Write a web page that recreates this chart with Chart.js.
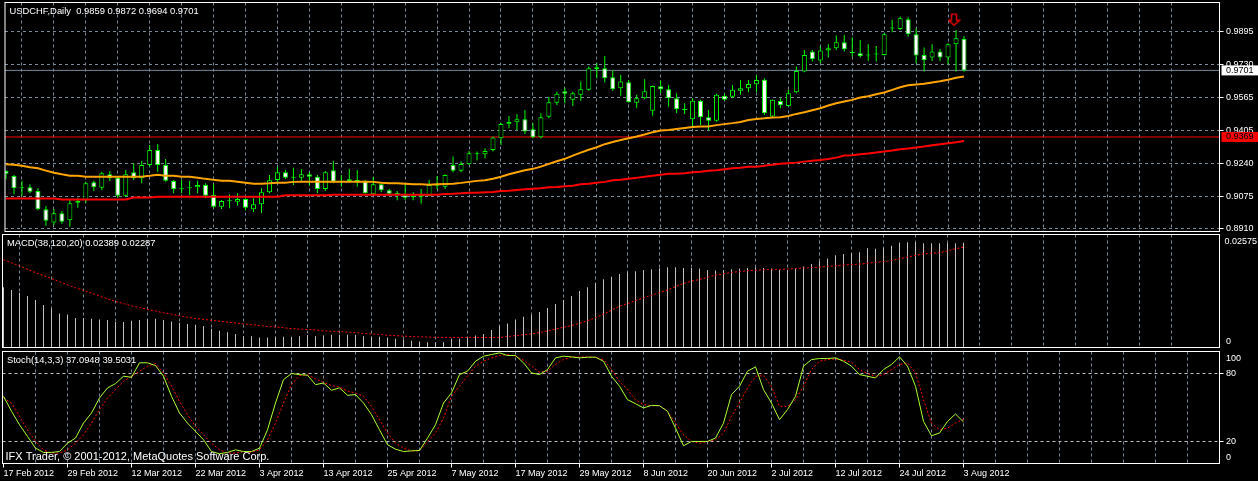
<!DOCTYPE html>
<html>
<head>
<meta charset="utf-8">
<title>USDCHF,Daily</title>
<script src="https://cdn.jsdelivr.net/npm/chart.js@4.4.1/dist/chart.umd.min.js"></script>
<style>
  html, body { margin: 0; padding: 0; background: #000; overflow: hidden; }
  #wrap { position: relative; width: 1258px; height: 481px; }
  #wrap canvas { position: absolute; left: 0; }
</style>
</head>
<body>
<div id="wrap">
  <canvas id="priceChart" width="1258" height="255" style="top:-10px"></canvas>
  <canvas id="macdChart" width="1258" height="118" style="top:232px"></canvas>
  <canvas id="stochChart" width="1258" height="132" style="top:349px"></canvas>
</div>
<script>
// one bar per trading day, bar 0 = 17 Feb 2012, bar 120 = 3 Aug 2012
const dateLabels = ['17 Feb 2012', '29 Feb 2012', '12 Mar 2012', '22 Mar 2012', '3 Apr 2012', '13 Apr 2012',
  '25 Apr 2012', '7 May 2012', '17 May 2012', '29 May 2012', '8 Jun 2012', '20 Jun 2012', '2 Jul 2012',
  '12 Jul 2012', '24 Jul 2012', '3 Aug 2012'];

const open = [
  0.9199, 0.9174, 0.9113, 0.9118, 0.9099, 0.9008, 0.8943, 0.8988, 0.8953, 0.9041,
  0.9055, 0.9143, 0.9116, 0.9183, 0.9166, 0.9076, 0.9193, 0.9163, 0.9229, 0.9304,
  0.9229, 0.9149, 0.9108, 0.9113, 0.9118, 0.9129, 0.9079, 0.9021, 0.9048, 0.9046,
  0.9059, 0.9008, 0.9033, 0.9093, 0.9154, 0.9193, 0.9166, 0.9166, 0.9183, 0.9171,
  0.9109, 0.9203, 0.9148, 0.9149, 0.9151, 0.9151, 0.9083, 0.9133, 0.9103, 0.9086,
  0.9080, 0.9075, 0.9071, 0.9075, 0.9126, 0.9121, 0.9229, 0.9201, 0.9233, 0.9283,
  0.9283, 0.9304, 0.9362, 0.9432, 0.9442, 0.9457, 0.9407, 0.9367, 0.9470, 0.9540,
  0.9597, 0.9554, 0.9579, 0.9604, 0.9708, 0.9712, 0.9667, 0.9612, 0.9642, 0.9540,
  0.9562, 0.9500, 0.9622, 0.9607, 0.9562, 0.9505, 0.9457, 0.9549, 0.9467, 0.9450,
  0.9575, 0.9570, 0.9600, 0.9612, 0.9632, 0.9654, 0.9471, 0.9548, 0.9524, 0.9592,
  0.9695, 0.9795, 0.9750, 0.9800, 0.9811, 0.9841, 0.9792, 0.9787, 0.9777, 0.9780,
  0.9778, 0.9910, 0.9908, 0.9956, 0.9881, 0.9778, 0.9765, 0.9795, 0.9765, 0.9831,
  0.9859];
const high = [
  0.9204, 0.9179, 0.9149, 0.9133, 0.9113, 0.9025, 0.9010, 0.9000, 0.9055, 0.9066,
  0.9146, 0.9151, 0.9196, 0.9199, 0.9171, 0.9204, 0.9238, 0.9249, 0.9329, 0.9334,
  0.9259, 0.9154, 0.9154, 0.9149, 0.9151, 0.9138, 0.9133, 0.9055, 0.9083, 0.9088,
  0.9063, 0.9063, 0.9113, 0.9179, 0.9221, 0.9204, 0.9216, 0.9208, 0.9193, 0.9179,
  0.9199, 0.9249, 0.9179, 0.9209, 0.9204, 0.9154, 0.9169, 0.9138, 0.9109, 0.9099,
  0.9133, 0.9093, 0.9109, 0.9154, 0.9174, 0.9183, 0.9271, 0.9246, 0.9299, 0.9296,
  0.9313, 0.9371, 0.9440, 0.9474, 0.9482, 0.9504, 0.9437, 0.9487, 0.9570, 0.9595,
  0.9615, 0.9595, 0.9645, 0.9720, 0.9737, 0.9773, 0.9700, 0.9678, 0.9653, 0.9579,
  0.9657, 0.9626, 0.9650, 0.9628, 0.9587, 0.9537, 0.9562, 0.9554, 0.9504, 0.9584,
  0.9584, 0.9628, 0.9653, 0.9653, 0.9678, 0.9662, 0.9556, 0.9562, 0.9604, 0.9720,
  0.9803, 0.9803, 0.9820, 0.9831, 0.9875, 0.9878, 0.9866, 0.9853, 0.9831, 0.9823,
  0.9886, 0.9953, 0.9970, 0.9966, 0.9911, 0.9815, 0.9831, 0.9808, 0.9836, 0.9903,
  0.9872];
const low = [
  0.9158, 0.9083, 0.9076, 0.9088, 0.9003, 0.8926, 0.8930, 0.8936, 0.8921, 0.9016,
  0.9041, 0.9099, 0.9104, 0.9149, 0.9066, 0.9071, 0.9154, 0.9138, 0.9221, 0.9196,
  0.9146, 0.9088, 0.9088, 0.9079, 0.9088, 0.9063, 0.9016, 0.9010, 0.9013, 0.9026,
  0.9003, 0.8995, 0.8990, 0.9088, 0.9146, 0.9159, 0.9129, 0.9151, 0.9126, 0.9088,
  0.9099, 0.9138, 0.9121, 0.9146, 0.9121, 0.9086, 0.9080, 0.9093, 0.9083, 0.9053,
  0.9056, 0.9053, 0.9036, 0.9073, 0.9109, 0.9109, 0.9193, 0.9193, 0.9229, 0.9251,
  0.9263, 0.9296, 0.9329, 0.9412, 0.9404, 0.9384, 0.9362, 0.9362, 0.9462, 0.9529,
  0.9537, 0.9524, 0.9550, 0.9600, 0.9662, 0.9640, 0.9600, 0.9574, 0.9540, 0.9512,
  0.9557, 0.9475, 0.9587, 0.9520, 0.9487, 0.9484, 0.9421, 0.9429, 0.9404, 0.9445,
  0.9550, 0.9562, 0.9579, 0.9592, 0.9592, 0.9479, 0.9468, 0.9512, 0.9521, 0.9587,
  0.9692, 0.9745, 0.9737, 0.9765, 0.9803, 0.9795, 0.9770, 0.9765, 0.9748, 0.9745,
  0.9775, 0.9891, 0.9903, 0.9870, 0.9737, 0.9695, 0.9748, 0.9748, 0.9732, 0.9695,
  0.9694];
const close = [
  0.9186, 0.9113, 0.9118, 0.9096, 0.9008, 0.8951, 0.8988, 0.8946, 0.9038, 0.9051,
  0.9138, 0.9118, 0.9188, 0.9163, 0.9076, 0.9183, 0.9163, 0.9229, 0.9304, 0.9229,
  0.9151, 0.9108, 0.9113, 0.9118, 0.9129, 0.9076, 0.9021, 0.9050, 0.9050, 0.9059,
  0.9016, 0.9033, 0.9093, 0.9153, 0.9193, 0.9166, 0.9168, 0.9183, 0.9171, 0.9109,
  0.9193, 0.9146, 0.9146, 0.9158, 0.9149, 0.9088, 0.9133, 0.9103, 0.9086, 0.9085,
  0.9066, 0.9070, 0.9080, 0.9129, 0.9129, 0.9179, 0.9201, 0.9234, 0.9288, 0.9288,
  0.9299, 0.9366, 0.9434, 0.9444, 0.9457, 0.9396, 0.9367, 0.9467, 0.9542, 0.9584,
  0.9585, 0.9587, 0.9607, 0.9712, 0.9717, 0.9662, 0.9607, 0.9645, 0.9542, 0.9562,
  0.9597, 0.9623, 0.9607, 0.9562, 0.9507, 0.9504, 0.9549, 0.9467, 0.9450, 0.9579,
  0.9554, 0.9604, 0.9612, 0.9633, 0.9653, 0.9487, 0.9554, 0.9527, 0.9587, 0.9698,
  0.9778, 0.9757, 0.9800, 0.9811, 0.9841, 0.9807, 0.9788, 0.9773, 0.9775, 0.9782,
  0.9881, 0.9911, 0.9961, 0.9881, 0.9775, 0.9752, 0.9795, 0.9765, 0.9831, 0.9861,
  0.9701];

// moving averages on the price window (orange and red)
const maFast = [
  0.9233, 0.9230, 0.9225, 0.9218, 0.9213, 0.9201, 0.9191, 0.9183, 0.9176, 0.9175,
  0.9171, 0.9171, 0.9171, 0.9171, 0.9171, 0.9171, 0.9171, 0.9171, 0.9175, 0.9180,
  0.9176, 0.9175, 0.9171, 0.9171, 0.9166, 0.9160, 0.9155, 0.9151, 0.9150, 0.9146,
  0.9141, 0.9136, 0.9136, 0.9138, 0.9141, 0.9141, 0.9145, 0.9146, 0.9146, 0.9146,
  0.9146, 0.9146, 0.9146, 0.9146, 0.9146, 0.9146, 0.9145, 0.9141, 0.9138, 0.9138,
  0.9136, 0.9133, 0.9133, 0.9131, 0.9133, 0.9135, 0.9136, 0.9140, 0.9145, 0.9150,
  0.9153, 0.9161, 0.9171, 0.9183, 0.9193, 0.9203, 0.9210, 0.9221, 0.9235, 0.9248,
  0.9260, 0.9276, 0.9291, 0.9305, 0.9318, 0.9333, 0.9344, 0.9354, 0.9363, 0.9371,
  0.9381, 0.9393, 0.9401, 0.9404, 0.9409, 0.9414, 0.9419, 0.9421, 0.9421, 0.9428,
  0.9433, 0.9438, 0.9444, 0.9454, 0.9459, 0.9462, 0.9466, 0.9467, 0.9474, 0.9484,
  0.9492, 0.9502, 0.9512, 0.9526, 0.9537, 0.9546, 0.9554, 0.9566, 0.9572, 0.9582,
  0.9591, 0.9604, 0.9617, 0.9627, 0.9631, 0.9634, 0.9641, 0.9647, 0.9654, 0.9664,
  0.9670];
const maSlow = [
  0.9062, 0.9062, 0.9062, 0.9062, 0.9062, 0.9062, 0.9062, 0.9057, 0.9057, 0.9057,
  0.9057, 0.9057, 0.9057, 0.9057, 0.9057, 0.9057, 0.9067, 0.9067, 0.9067, 0.9071,
  0.9071, 0.9071, 0.9071, 0.9071, 0.9071, 0.9071, 0.9071, 0.9071, 0.9071, 0.9071,
  0.9071, 0.9071, 0.9071, 0.9071, 0.9071, 0.9078, 0.9078, 0.9078, 0.9078, 0.9078,
  0.9078, 0.9081, 0.9081, 0.9081, 0.9081, 0.9081, 0.9081, 0.9081, 0.9081, 0.9081,
  0.9081, 0.9081, 0.9081, 0.9081, 0.9081, 0.9085, 0.9086, 0.9088, 0.9091, 0.9091,
  0.9093, 0.9095, 0.9100, 0.9101, 0.9105, 0.9108, 0.9111, 0.9113, 0.9118, 0.9120,
  0.9123, 0.9126, 0.9133, 0.9136, 0.9141, 0.9145, 0.9153, 0.9156, 0.9161, 0.9165,
  0.9171, 0.9176, 0.9181, 0.9185, 0.9186, 0.9188, 0.9193, 0.9196, 0.9201, 0.9203,
  0.9208, 0.9213, 0.9216, 0.9221, 0.9221, 0.9226, 0.9231, 0.9235, 0.9238, 0.9241,
  0.9246, 0.9250, 0.9254, 0.9259, 0.9266, 0.9276, 0.9278, 0.9283, 0.9286, 0.9291,
  0.9296, 0.9301, 0.9308, 0.9311, 0.9316, 0.9321, 0.9328, 0.9333, 0.9338, 0.9343,
  0.9349];

// MACD(38,120,20)
const macdMain = [
  0.01371, 0.01310, 0.01250, 0.01173, 0.01082, 0.00968, 0.00891, 0.00777, 0.00754, 0.00670,
  0.00670, 0.00655, 0.00640, 0.00625, 0.00579, 0.00579, 0.00609, 0.00625, 0.00640, 0.00655,
  0.00625, 0.00594, 0.00564, 0.00533, 0.00518, 0.00488, 0.00427, 0.00381, 0.00350, 0.00305,
  0.00259, 0.00259, 0.00229, 0.00229, 0.00244, 0.00244, 0.00244, 0.00259, 0.00282, 0.00259,
  0.00274, 0.00290, 0.00290, 0.00290, 0.00290, 0.00259, 0.00244, 0.00244, 0.00229, 0.00198,
  0.00183, 0.00152, 0.00137, 0.00122, 0.00122, 0.00122, 0.00198, 0.00198, 0.00229, 0.00274,
  0.00305, 0.00396, 0.00488, 0.00549, 0.00640, 0.00701, 0.00739, 0.00808, 0.00899, 0.00990,
  0.01082, 0.01173, 0.01288, 0.01371, 0.01463, 0.01554, 0.01615, 0.01676, 0.01707, 0.01737,
  0.01767, 0.01783, 0.01806, 0.01828, 0.01828, 0.01813, 0.01813, 0.01798, 0.01767, 0.01752,
  0.01767, 0.01783, 0.01798, 0.01813, 0.01828, 0.01813, 0.01798, 0.01767, 0.01767, 0.01798,
  0.01844, 0.01905, 0.01965, 0.02030, 0.02100, 0.02133, 0.02148, 0.02171, 0.02263, 0.02248,
  0.02263, 0.02316, 0.02392, 0.02400, 0.02400, 0.02377, 0.02377, 0.02377, 0.02377, 0.02377,
  0.02389];
const macdSignal = [
  0.0200, 0.0193, 0.0186, 0.0178, 0.0171, 0.0164, 0.0157, 0.0150, 0.0143, 0.0136,
  0.0130, 0.0124, 0.0117, 0.0111, 0.0105, 0.0100, 0.0095, 0.0091, 0.0087, 0.0083,
  0.0079, 0.0076, 0.0072, 0.0069, 0.0066, 0.0064, 0.0062, 0.0060, 0.0058, 0.0056,
  0.0054, 0.0052, 0.0050, 0.0048, 0.0047, 0.0045, 0.0043, 0.0042, 0.0041, 0.0040,
  0.0038, 0.0037, 0.0036, 0.0035, 0.0034, 0.0032, 0.0031, 0.0030, 0.0028, 0.0027,
  0.0026, 0.0025, 0.0024, 0.0024, 0.0023, 0.0023, 0.0023, 0.0023, 0.0023, 0.0023,
  0.0023, 0.0023, 0.0023, 0.0025, 0.0027, 0.0029, 0.0031, 0.0034, 0.0038, 0.0042,
  0.0046, 0.0050, 0.0055, 0.0061, 0.0068, 0.0076, 0.0085, 0.0094, 0.0100, 0.0107,
  0.0113, 0.0119, 0.0125, 0.0131, 0.0139, 0.0146, 0.0151, 0.0155, 0.0160, 0.0165,
  0.0168, 0.0171, 0.0173, 0.0175, 0.0176, 0.0177, 0.0178, 0.0178, 0.0179, 0.0180,
  0.0181, 0.0182, 0.0183, 0.0185, 0.0186, 0.0188, 0.0189, 0.0190, 0.0192, 0.0194,
  0.0196, 0.0198, 0.0202, 0.0206, 0.0210, 0.0213, 0.0215, 0.0216, 0.0220, 0.0225,
  0.02287];

// Stoch(14,3,3)
const stochK = [
  60, 46.6, 34.6, 24.2, 13.7, 9.9, 9.9, 10.7, 18.2, 22.7,
  36.1, 45.1, 58.5, 67.5, 71.3, 77.9, 77, 89.9, 89.9, 87.5,
  77.9, 60, 45.1, 36.1, 28.7, 21.2, 10.7, 8.7, 9.9, 12.2,
  10.7, 10.7, 13.7, 30.1, 54, 74.9, 80.3, 79.4, 78.8, 70.4,
  71.9, 65.4, 67.5, 60.9, 61.5, 54, 43.6, 30.1, 16.7, 12.8,
  10.7, 11.3, 11.6, 22.7, 34.6, 54, 63, 79.4, 82.4, 91.3,
  95.8, 97.3, 98.8, 96.4, 96.4, 89.9, 80.9, 79.4, 83.9, 94.3,
  95.8, 95.2, 94.3, 94.9, 94.9, 91.3, 77.9, 69, 57, 53.4,
  49.6, 51.9, 51.6, 46.6, 31.6, 15.8, 19.7, 19.7, 19.7, 22.7,
  36.1, 61.5, 69, 82.4, 86.3, 66, 54, 39.1, 48.1, 60,
  86.9, 92.8, 93.7, 93.7, 94.3, 91.3, 86.9, 79.4, 77.9, 76.4,
  83.9, 88.4, 95.2, 86.9, 69, 37.6, 24.8, 27.2, 37.6, 44.2,
  37.0948];
const stochD = [
  58.5, 54, 42.1, 30.1, 19.7, 12.2, 9.3, 9.3, 12.2, 18.2,
  25.7, 36.1, 48.1, 58.5, 66, 73.4, 77.9, 82.4, 86.9, 89.3,
  80.9, 69, 55.5, 43.6, 33.1, 25.7, 18.2, 12.2, 9.3, 9.3,
  10.7, 9.9, 12.2, 21.2, 36.1, 54, 70.4, 78.5, 79.4, 75.5,
  72.5, 69.6, 68.4, 64.5, 63, 60, 51, 39.1, 27.2, 18.2,
  13.7, 11.3, 11.3, 19.7, 27.2, 40.6, 60, 69, 77.9, 86.9,
  91.3, 94.3, 96.4, 97.3, 95.8, 92.2, 86.9, 81.5, 82.4, 88.4,
  92.8, 94.9, 95.2, 95.2, 94.9, 92.8, 83.9, 73.4, 66, 57,
  52.5, 51.6, 51.6, 46.6, 36.1, 25.7, 19.7, 18.2, 19.7, 21.2,
  27.2, 42.1, 54, 67.5, 77.9, 78.5, 69, 51, 51, 57,
  69, 83.9, 91.3, 92.8, 93.4, 92.2, 90.4, 83.9, 80.3, 77.9,
  79.4, 83.9, 88.4, 89.9, 80.9, 57, 36.1, 30.1, 31.6, 36.1,
  39.5031];

// right hand scale labels
const priceTicks = [0.8910, 0.90742, 0.92383, 0.94025, 0.95667, 0.97308, 0.9895];
const priceLabels = ['0.8910', '0.9075', '0.9240', '0.9405', '0.9565', '0.9730', '0.9895'];
const macdTicks = [0, 0.02575];
const macdLabels = ['0', '0.02575'];
const stochTicks = [0, 20, 80, 100];
const stochLabels = ['0', '20', '80', '100'];
const stochLevels = [20, 80];

const bidPrice = 0.9701;    // last close, grey bid line
const lineLevel = 0.9369;   // red horizontal line object
const arrowBar = 119;       // sell arrow
const arrowPrice = 0.9954;

const FAMILY = '"Liberation Sans", Arial, sans-serif';
const AXIS_FONT = { family: FAMILY, size: 9 };
const GRID = '#778899';
const X_MIN = -0.125, X_MAX = 152, AXIS_W = 38.5;

Chart.defaults.font.family = FAMILY;
Chart.defaults.font.size = 9;
Chart.defaults.color = '#ffffff';

const idx = close.map((_, i) => i);
const pts = arr => idx.map(i => ({ x: i, y: arr[i] }));

// titles, clamped scale labels, price boxes and the white frame of each window
const paneDecor = {
  id: 'paneDecor',
  afterDraw(chart, args, o) {
    const { ctx, chartArea: a } = chart;
    const ys = chart.scales.y;
    ctx.save();
    ctx.textBaseline = 'middle';
    ctx.textAlign = 'left';
    ctx.fillStyle = '#fff';
    ctx.font = '9px ' + FAMILY;
    (o.ticks || []).forEach((v, i) => {
      const t = o.labels[i];
      const py = Math.min(Math.max(ys.getPixelForValue(v), a.top + 7), a.bottom - 6);
      const px = Math.min(a.right + 6.5, chart.width - ctx.measureText(t).width - 1);
      ctx.fillText(t, px, py);
    });
    (o.boxes || []).forEach(b => {
      const py = ys.getPixelForValue(b.value);
      ctx.fillStyle = b.bg;
      ctx.fillRect(a.right + 2, py - 5, chart.width - a.right - 2, 10);
      ctx.fillStyle = b.fg;
      ctx.fillText(b.text, a.right + 6.5, py);
    });
    ctx.fillStyle = '#fff';
    if (o.title) {
      ctx.font = '9.4px ' + FAMILY;
      ctx.fillText(o.title, a.left + 4.5, a.top + 9);
    }
    if (o.footer) {
      ctx.font = '11px ' + FAMILY;
      ctx.fillText(o.footer, a.left + 3, a.bottom - 7);
    }
    ctx.strokeStyle = '#fff';
    ctx.lineWidth = 1;
    ctx.strokeRect(a.left, a.top, a.right - a.left, a.bottom - a.top);
    ctx.restore();
  }
};

function timeAxis(withLabels) {
  return {
    type: 'linear', min: X_MIN, max: X_MAX, bounds: 'data', offset: false,
    afterBuildTicks: s => { s.ticks = []; for (let v = 0; v <= 148; v += 4) s.ticks.push({ value: v }); },
    afterFit: s => { s.height = withLabels ? 17.5 : 0; },
    grid: {
      color: c => (c.tick && c.tick.value > 0 ? GRID : 'rgba(0,0,0,0)'),
      drawTicks: withLabels, tickLength: 4, tickBorderDash: [],
      tickColor: c => (c.tick && c.tick.value % 8 === 0 && c.tick.value / 8 < dateLabels.length ? '#fff' : 'rgba(0,0,0,0)')
    },
    border: { display: false, dash: [3, 3] },
    ticks: {
      display: withLabels, autoSkip: false, maxRotation: 0, align: 'start', padding: 1,
      color: '#fff', font: AXIS_FONT,
      callback: v => (v % 8 === 0 && v / 8 < dateLabels.length ? dateLabels[v / 8] : '')
    }
  };
}

function baseOptions(padding, decor, scales) {
  return {
    responsive: false, animation: false, devicePixelRatio: 1, events: [],
    layout: { padding },
    plugins: { legend: { display: false }, tooltip: { enabled: false }, paneDecor: decor },
    scales
  };
}

function makeArrow() {
  const c = document.createElement('canvas');
  c.width = 16; c.height = 14;
  const g = c.getContext('2d');
  g.strokeStyle = '#e00000';
  g.lineWidth = 1.5;
  g.fillStyle = '#000';
  g.beginPath();
  g.moveTo(3.5, 1.5); g.lineTo(8.5, 1.5); g.lineTo(8.5, 7.5); g.lineTo(11.5, 7.5);
  g.lineTo(6, 12.5); g.lineTo(0.5, 7.5); g.lineTo(3.5, 7.5);
  g.closePath();
  g.fill(); g.stroke();
  return c;
}

const last = close.length - 1;
const bodyFill = idx.map(i => (close[i] >= open[i] ? '#000000' : '#ffffff'));

new Chart(document.getElementById('priceChart'), {
  type: 'bar',
  data: {
    datasets: [
      { type: 'line', data: pts(maFast), borderColor: '#ffa500', borderWidth: 2, pointRadius: 0, order: 0, clip: 0 },
      { type: 'line', data: pts(maSlow), borderColor: '#ff0000', borderWidth: 2, pointRadius: 0, order: 0, clip: 0 },
      { type: 'scatter', data: [{ x: arrowBar, y: arrowPrice }], pointStyle: makeArrow(), pointRadius: 3, order: 0 },
      {
        type: 'bar', data: idx.map(i => ({ x: i, y: [open[i], close[i]] })),
        backgroundColor: bodyFill, borderColor: '#00ff00', borderWidth: 1, borderSkipped: false,
        barThickness: 5, minBarLength: 1, inflateAmount: 0, grouped: false, order: 1, clip: 0
      },
      {
        type: 'bar', data: idx.map(i => ({ x: i, y: [low[i], high[i]] })),
        backgroundColor: '#00ff00', barThickness: 1, inflateAmount: 0, grouped: false, order: 2, clip: 0
      },
      { type: 'line', data: [{ x: X_MIN, y: bidPrice }, { x: X_MAX, y: bidPrice }], borderColor: GRID, borderWidth: 1, pointRadius: 0, order: 3, clip: 0 },
      { type: 'line', data: [{ x: X_MIN, y: lineLevel }, { x: X_MAX, y: lineLevel }], borderColor: '#ff0000', borderWidth: 1, pointRadius: 0, order: 3, clip: 0 }
    ]
  },
  options: baseOptions(
    { left: 2.5, right: 0, top: 12.5, bottom: 13.5 },
    {
      title: 'USDCHF,Daily  ' + [open[last], high[last], low[last], close[last]].map(v => v.toFixed(4)).join(' '),
      boxes: [
        { value: bidPrice, text: bidPrice.toFixed(4), bg: '#ffffff', fg: '#000000' },
        { value: lineLevel, text: lineLevel.toFixed(4), bg: '#ff0000', fg: '#000000' }
      ]
    },
    {
      x: timeAxis(false),
      y: {
        position: 'right', min: 0.88975, max: 1.00396, bounds: 'data',
        afterBuildTicks: s => { s.ticks = priceTicks.map(v => ({ value: v })); },
        afterFit: s => { s.width = AXIS_W; },
        grid: { color: GRID, tickColor: '#ffffff', tickLength: 4, tickBorderDash: [] },
        border: { display: false, dash: [3, 3] },
        ticks: { color: '#ffffff', padding: 2.5, font: AXIS_FONT, autoSkip: false, callback: (v, i) => priceLabels[i] }
      }
    }
  ),
  plugins: [paneDecor]
});

new Chart(document.getElementById('macdChart'), {
  type: 'bar',
  data: {
    datasets: [
      { type: 'line', data: pts(macdSignal), borderColor: '#ff0000', borderWidth: 1, borderDash: [2, 2], pointRadius: 0, order: 0, clip: 0 },
      { type: 'bar', data: pts(macdMain), backgroundColor: '#c0c0c0', barThickness: 1, inflateAmount: 0, grouped: false, order: 1, clip: 0 }
    ]
  },
  options: baseOptions(
    { left: 2.5, right: 0, top: 2.5, bottom: 2.5 },
    {
      title: 'MACD(38,120,20) ' + macdMain[last].toFixed(5) + ' ' + macdSignal[last].toFixed(5),
      ticks: macdTicks, labels: macdLabels
    },
    {
      x: timeAxis(false),
      y: {
        position: 'right', min: 0, max: 0.02575, bounds: 'data',
        afterBuildTicks: s => { s.ticks = macdTicks.map(v => ({ value: v })); },
        afterFit: s => { s.width = AXIS_W; },
        grid: { display: false }, border: { display: false }, ticks: { display: false }
      }
    }
  ),
  plugins: [paneDecor]
});

new Chart(document.getElementById('stochChart'), {
  type: 'line',
  data: {
    datasets: [
      { data: pts(stochK), borderColor: '#adff2f', borderWidth: 1, pointRadius: 0, order: 0, clip: 0 },
      { data: pts(stochD), borderColor: '#ff0000', borderWidth: 1, borderDash: [2, 2], pointRadius: 0, order: 1, clip: 0 }
    ]
  },
  options: baseOptions(
    { left: 2.5, right: 0, top: 2.5, bottom: 0 },
    {
      title: 'Stoch(14,3,3) ' + stochK[last].toFixed(4) + ' ' + stochD[last].toFixed(4),
      footer: 'IFX Trader, \u00a9 2001-2012, MetaQuotes Software Corp.',
      ticks: stochTicks, labels: stochLabels
    },
    {
      x: timeAxis(true),
      y: {
        position: 'right', min: 0, max: 100, bounds: 'data',
        afterBuildTicks: s => { s.ticks = stochLevels.map(v => ({ value: v })); },
        afterFit: s => { s.width = AXIS_W; },
        grid: { color: '#c0c0c0', tickColor: '#ffffff', tickLength: 4, tickBorderDash: [] },
        border: { display: false, dash: [3, 3] },
        ticks: { display: false }
      }
    }
  ),
  plugins: [paneDecor]
});
</script>
</body>
</html>
